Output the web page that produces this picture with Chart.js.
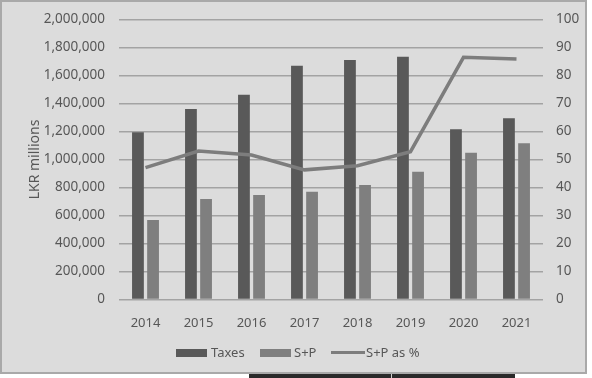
<!DOCTYPE html>
<html>
<head>
<meta charset="utf-8">
<script src="https://cdn.jsdelivr.net/npm/chart.js@4.4.1/dist/chart.umd.min.js"></script>
<style>
  html, body { margin: 0; padding: 0; background: #ffffff; }
  body { width: 592px; height: 378px; position: relative; overflow: hidden;
         font-family: "Noto Sans", "Liberation Sans", sans-serif; }
  #frame { position: absolute; left: 0; top: 0; width: 583px; height: 370px;
           background: #dcdcdc; border: 2px solid #a9a9a9; }
  #wrap  { position: absolute; left: 0; top: 0; width: 583px; height: 370px; }
  .legend { position: absolute; top: 341px; left: 0; height: 20px; font-size: 13px; color: #575757; }
  .legend span { position: absolute; white-space: nowrap; }
  .sw { height: 8px; top: 6px; }
  .ln { height: 3px; top: 8px; }
  .lt { top: 1px; line-height: 16px; }
  #strip { position: absolute; left: 249px; top: 374px; width: 266px; height: 4px; background: #2a2a2a; }
  #strip i { position: absolute; left: 142px; top: 0; width: 1px; height: 4px; background: #cfcfcf; }
</style>
</head>
<body>
<div id="frame">
  <div id="wrap"><canvas id="chart"></canvas></div>
  <div class="legend">
    <span class="sw" style="left:174px;width:31px;background:#595959"></span>
    <span class="lt" style="left:209px">Taxes</span>
    <span class="sw" style="left:258px;width:31px;background:#7f7f7f"></span>
    <span class="lt" style="left:292px">S+P</span>
    <span class="ln" style="left:329px;width:34px;background:#7d7d7d"></span>
    <span class="lt" style="left:364px">S+P as %</span>
  </div>
</div>
<div id="strip"><i></i></div>

<script>
/* ── chart data ── */
const years    = ['2014', '2015', '2016', '2017', '2018', '2019', '2020', '2021'];
const taxes    = [1195000, 1360000, 1462000, 1670000, 1711000, 1734000, 1216000, 1294000];
const spValues = [568000, 718000, 746000, 770000, 818000, 913000, 1049000, 1116000];
const spPct    = [47.1, 53.0, 51.6, 46.3, 47.8, 52.8, 86.5, 85.9];

const TEXT = '#575757';
const GRID = '#a3a3a3';

/* value axes: drop the label overhang padding so the plot area keeps its size */
const noOverhang = s => { s.paddingTop = 0; s.paddingBottom = 0; };

new Chart(document.getElementById('chart'), {
  type: 'bar',
  data: {
    labels: years,
    datasets: [
      {
        type: 'line',
        label: 'S+P as %',
        data: spPct,
        yAxisID: 'y1',
        borderColor: '#7d7d7d',
        borderWidth: 3.5,
        pointRadius: 0,
        tension: 0,
        order: 0,
      },
      {
        label: 'Taxes',
        data: taxes,
        backgroundColor: '#595959',
        categoryPercentage: 0.57,
        barPercentage: 0.78,
        order: 1,
      },
      {
        label: 'S+P',
        data: spValues,
        backgroundColor: '#7f7f7f',
        categoryPercentage: 0.57,
        barPercentage: 0.78,
        order: 1,
      },
    ],
  },
  options: {
    responsive: true,
    maintainAspectRatio: false,
    animation: false,
    layout: { padding: { top: 17.5, left: 0, right: 0, bottom: 0 } },
    plugins: {
      legend:  { display: false },
      tooltip: { enabled: false },
    },
    scales: {
      x: {
        grid:   { display: false, drawTicks: false },
        border: { display: false },
        ticks:  { color: TEXT, font: { family: 'Noto Sans', size: 13 }, padding: 16 },
        afterFit: s => { s.height = 72.5; },
      },
      y: {
        position: 'left',
        min: 0,
        max: 2000000,
        grid:   { color: GRID, lineWidth: 1.5, drawTicks: false },
        border: { display: false },
        ticks:  {
          stepSize: 200000,
          color: TEXT,
          padding: 14,
          font: { family: 'Noto Sans', size: 13.5 },
          callback: v => v.toLocaleString('en-US'),
        },
        title: {
          display: true,
          text: 'LKR millions',
          color: TEXT,
          font: { family: 'Noto Sans', size: 14 },
          padding: { top: 25, bottom: 0 },
        },
        afterFit: s => { s.width = 117; noOverhang(s); },
      },
      y1: {
        position: 'right',
        min: 0,
        max: 100,
        grid:   { display: false, drawTicks: false },
        border: { display: false },
        ticks:  { stepSize: 10, color: TEXT, padding: 13, font: { family: 'Noto Sans', size: 13.5 } },
        afterFit: s => { s.width = 42; noOverhang(s); },
      },
    },
  },
});
</script>
</body>
</html>
